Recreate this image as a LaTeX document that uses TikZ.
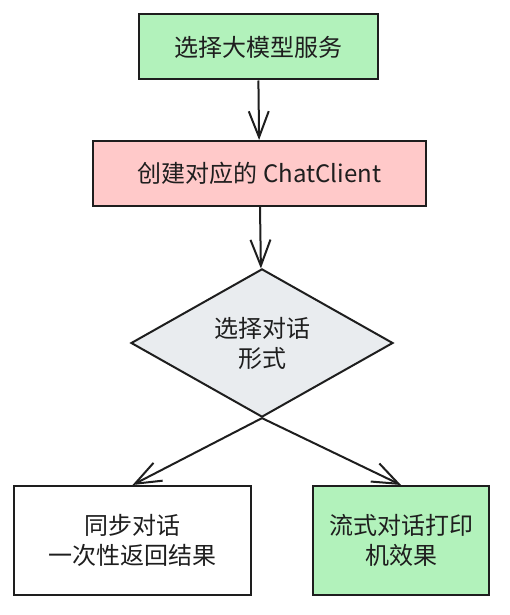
\documentclass[tikz,border=0pt]{standalone}
\usepackage{fontspec}
\setmainfont{Noto Sans CJK SC}
\usepackage{xcolor}
\usepackage{tikz}
\usetikzlibrary{arrows.meta, positioning, shapes.geometric}

\definecolor{inkgray}{HTML}{1E1E1E}
\definecolor{boxgreen}{HTML}{B2F2BB}
\definecolor{boxred}{HTML}{FFC9C9}
\definecolor{boxgray}{HTML}{E9ECEF}

\begin{document}
\begin{tikzpicture}[x=1pt, y=-1pt,
    every node/.style={text=inkgray, font=\fontsize{24}{30}\selectfont, align=center, inner sep=0pt},
    stepbox/.style={draw=inkgray, line width=2pt, rectangle},
    choice/.style={draw=inkgray, line width=2pt, diamond, fill=boxgray},
    flow/.style={draw=inkgray, line width=2pt, -{Straight Barb[length=26pt, width=20pt, line width=2pt]}}]
  \useasboundingbox (0,0) rectangle (510,615);

  % --- Steps ---
  \node[stepbox, fill=boxgreen, minimum width=239pt, minimum height=65pt] (model) at (258,47) {选择大模型服务};
  \node[stepbox, fill=boxred, minimum width=333pt, minimum height=65pt] (client) at (259.5,173.5) {创建对应的 ChatClient};

  % --- Decision ---
  \node[choice, minimum width=262pt, minimum height=148pt] (mode) at (262,343) {选择对话\\形式};

  % --- Results ---
  \node[stepbox, fill=white, minimum width=237pt, minimum height=109pt] (sync) at (132.5,540.5) {同步对话\\一次性返回结果};
  \node[stepbox, fill=boxgreen, minimum width=176pt, minimum height=109pt] (stream) at (401,540.5) {流式对话打印\\机效果};

  % --- Arrows ---
  \draw[flow] (model) -- (client);
  \draw[flow] (client) -- (mode);
  \draw[flow] (mode.south) -- (sync.north);
  \draw[flow] (mode.south) -- (stream.north);

\end{tikzpicture}
\end{document}
